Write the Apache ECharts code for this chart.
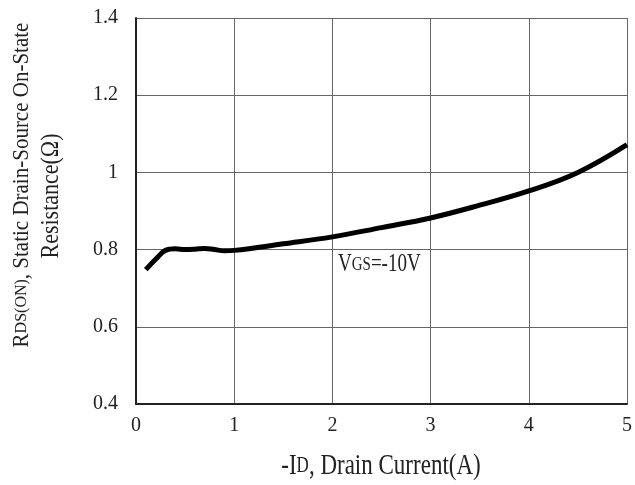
<!DOCTYPE html>
<html><head><meta charset="utf-8">
<script src="https://cdn.jsdelivr.net/npm/echarts@6/dist/echarts.min.js"></script>
<style>html,body{margin:0;padding:0;background:#fff}#c{width:635px;height:485px}</style>
</head><body><div id="c"></div>
<script>
const currentA = [0.1, 0.2, 0.3, 0.4, 0.5, 0.6, 0.7, 0.8, 0.9, 1.0, 1.5, 2.0, 2.5, 3.0, 3.5, 4.0, 4.5, 5.0];
const rdsOn = [0.748, 0.775, 0.798, 0.802, 0.800, 0.801, 0.803, 0.800, 0.797, 0.798, 0.815, 0.833, 0.857, 0.882, 0.915, 0.952, 1.0, 1.072];
const xTicks = [0, 1, 2, 3, 4, 5];
const yTicks = [0.4, 0.6, 0.8, 1, 1.2, 1.4];

const F = 'Liberation Serif';
const C = '#222';
const chart = echarts.init(document.getElementById('c'));
chart.setOption({
  animation: false,
  grid: {left: 136, right: 5, top: 18, bottom: 81},
  xAxis: {
    type: 'value', min: xTicks[0], max: xTicks[xTicks.length-1], interval: 1,
    axisLine: {lineStyle: {color: C, width: 2}},
    axisTick: {show: false},
    splitLine: {lineStyle: {color: '#666', width: 1}},
    axisLabel: {fontFamily: F, fontSize: 20, color: C, margin: 12}
  },
  yAxis: {
    type: 'value', min: yTicks[0], max: yTicks[yTicks.length-1], interval: 0.2,
    axisLine: {lineStyle: {color: C, width: 2}},
    axisTick: {show: false},
    splitLine: {lineStyle: {color: '#666', width: 1}},
    axisLabel: {fontFamily: F, fontSize: 20, color: C, margin: 18}
  },
  series: [{
    type: 'line', smooth: 0.4, symbol: 'none',
    data: currentA.map((x, i) => [x, rdsOn[i]]),
    lineStyle: {color: '#000', width: 5}
  }],
  graphic: [
    {
      type: 'text', x: 381, y: 466, scaleY: 1.3,
      style: {text: '{a|-I}{b|D}{a|, Drain Current(A)}', align: 'center', verticalAlign: 'middle',
        rich: {a: {fontFamily: F, fontSize: 23, fill: C}, b: {fontFamily: F, fontSize: 17, fill: C}}}
    },
    {
      type: 'text', x: 21.5, y: 185, rotation: Math.PI / 2, scaleY: 1.1,
      style: {text: '{a|R}{b|DS(ON)}{a|, Static Drain-Source On-State}', align: 'center', verticalAlign: 'middle',
        rich: {a: {fontFamily: F, fontSize: 21, fill: C}, b: {fontFamily: F, fontSize: 16, fill: C}}}
    },
    {
      type: 'text', x: 52, y: 196, rotation: Math.PI / 2, scaleY: 1.1,
      style: {text: 'Resistance(Ω)', align: 'center', verticalAlign: 'middle',
        fontFamily: F, fontSize: 22, fill: C}
    },
    {
      type: 'text', x: 338, y: 265, scaleY: 1.3,
      style: {text: '{a|V}{b|GS}{a|=-10V}', align: 'left', verticalAlign: 'middle',
        rich: {a: {fontFamily: F, fontSize: 19, fill: C}, b: {fontFamily: F, fontSize: 15, fill: C}}}
    }
  ]
});
</script></body></html>
